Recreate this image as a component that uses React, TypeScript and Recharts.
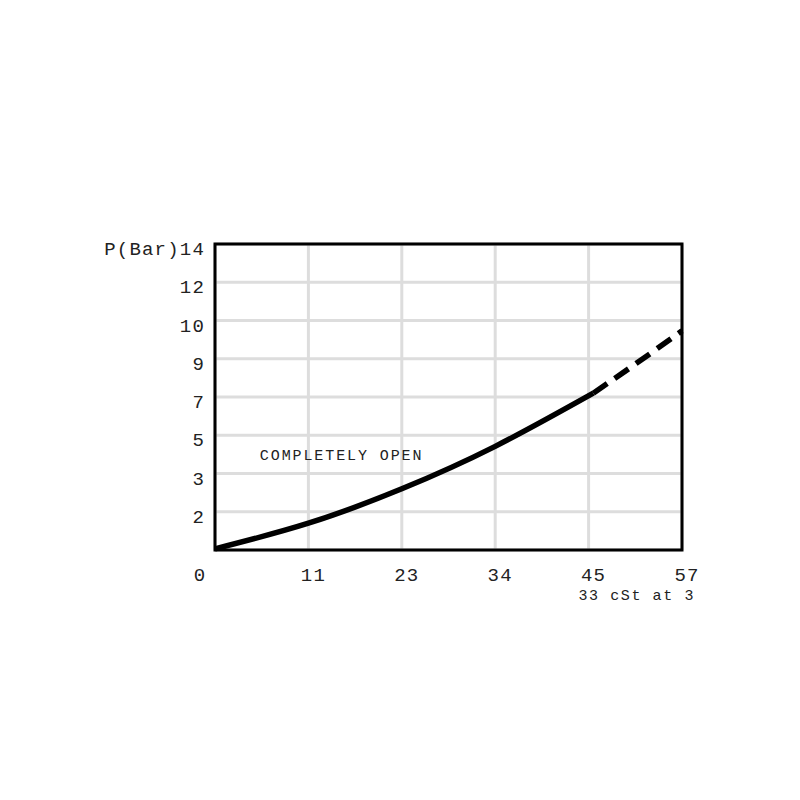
import React from "react";
import { LineChart, Line, XAxis, YAxis, CartesianGrid, ReferenceArea, ReferenceDot } from "recharts";

// grid positions (equal spacing) and their printed labels
const xTickPositions = [0, 1, 2, 3, 4, 5];
const xTickLabels = ["0", "11", "23", "34", "45", "57"];
const yTickPositions = [1, 2, 3, 4, 5, 6, 7, 8];
const yTickLabels = ["2", "3", "5", "7", "9", "10", "12", "14"];
const yAxisTitle = "P(Bar)";
const xAxisNote = "33 cSt at 3";
const curveLabel = "COMPLETELY OPEN";

// curve, in grid units
const xs = [0, 1, 2, 3, 4.05, 4.5, 5];
const solidY = [0.03, 0.7, 1.6, 2.71, 4.1, null, null];
const dashedY = [null, null, null, null, 4.1, 4.86, 5.73];

const data = xs.map((x, i) => ({ x, solid: solidY[i], dashed: dashedY[i] }));

const FONT = "'Liberation Mono', 'DejaVu Sans Mono', monospace";
const PLOT_LEFT = 207;
const PLOT_BOTTOM = 542;
const PLOT_RIGHT = 674;

const YTick = (props: any) => {
  const { y, payload } = props;
  const idx = yTickPositions.indexOf(payload.value);
  const text = (idx === yTickPositions.length - 1 ? yAxisTitle : "") + yTickLabels[idx];
  return (
    <text x={PLOT_LEFT - 10} y={y + 11} textAnchor="end" fontFamily={FONT} fontSize={19} letterSpacing={1.2} fill="#222">
      {text}
    </text>
  );
};

const XTick = (props: any) => {
  const { x, payload } = props;
  const idx = xTickPositions.indexOf(payload.value);
  const dx = idx === 0 ? -15 : 5;
  return (
    <text x={x + dx} y={PLOT_BOTTOM + 31} textAnchor="middle" fontFamily={FONT} fontSize={19} letterSpacing={1.2} fill="#222">
      {xTickLabels[idx]}
    </text>
  );
};

const NoteLabel = () => (
  <text x={PLOT_RIGHT + 13} y={PLOT_BOTTOM + 50} textAnchor="end" fontFamily={FONT} fontSize={15} letterSpacing={1.6} fill="#222">
    {xAxisNote}
  </text>
);

const CurveText = (props: any) => {
  const vb = props.viewBox || {};
  return (
    <text x={vb.x} y={vb.y + 5} textAnchor="start" fontFamily={FONT} fontSize={15} letterSpacing={1.9} fill="#222">
      {curveLabel}
    </text>
  );
};

export default function App() {
  return (
    <LineChart width={800} height={800} data={data} margin={{ top: 236, left: 147, right: 126, bottom: 218 }}>
      <CartesianGrid stroke="#dddddd" strokeWidth={3} />
      <XAxis
        dataKey="x"
        type="number"
        domain={[0, 5]}
        ticks={xTickPositions}
        axisLine={false}
        tickLine={false}
        height={40}
        tick={<XTick />}
        interval={0}
        label={<NoteLabel />}
      />
      <YAxis
        type="number"
        domain={[0, 8]}
        ticks={yTickPositions}
        axisLine={false}
        tickLine={false}
        width={60}
        tick={<YTick />}
        interval={0}
      />
      <ReferenceArea x1={0} x2={5} y1={0} y2={8} fill="none" stroke="#000" strokeWidth={3} ifOverflow="visible" />
      <ReferenceDot x={0.48} y={2.48} r={0} fill="none" stroke="none" label={<CurveText />} />
      <Line dataKey="solid" stroke="#000" strokeWidth={5.5} dot={false} type="natural" connectNulls={false} isAnimationActive={false} />
      <Line dataKey="dashed" stroke="#000" strokeWidth={5.5} strokeDasharray="17 9" dot={false} type="natural" connectNulls={false} isAnimationActive={false} />
    </LineChart>
  );
}
